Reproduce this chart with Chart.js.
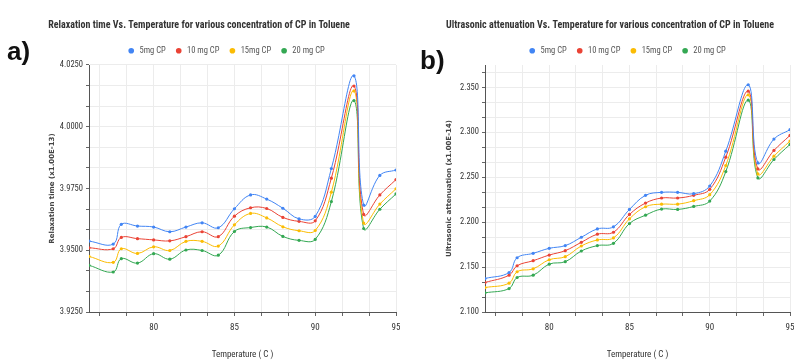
<!DOCTYPE html>
<html><head><meta charset="utf-8">
<script src="https://cdn.jsdelivr.net/npm/chart.js@4.4.1/dist/chart.umd.min.js"></script>
<style>
html,body{margin:0;padding:0;background:#fff;width:794px;height:364px;overflow:hidden;}
#wa{position:absolute;left:0;top:0;width:400px;height:364px;}
#wb{position:absolute;left:400px;top:0;width:394px;height:364px;}
.lab{position:absolute;font-family:'Liberation Sans',Arial,sans-serif;font-weight:bold;font-size:26px;color:#111;z-index:2;line-height:1;}
</style></head><body>
<div id="wa"><canvas id="ca" width="400" height="364"></canvas></div>
<div id="wb"><canvas id="cb" width="394" height="364"></canvas></div>
<div class="lab" style="left:7px;top:38px">a)</div>
<div class="lab" style="left:420px;top:47px">b)</div>
<script>
// ---- data ----
const temps = [76, 77.5, 78, 79, 80, 81, 82, 83, 84, 85, 86, 87, 88, 89, 90, 91, 92.4, 93, 94, 95];
const seriesNames = ['5mg CP', '10 mg CP', '15mg CP', '20 mg CP'];
const seriesColors = ['#4285F4', '#EA4335', '#FBBC04', '#34A853'];

const relax5  = [3.9537, 3.9525, 3.9605, 3.9598, 3.9594, 3.9575, 3.9594, 3.9611, 3.9591, 3.9668, 3.9724, 3.9707, 3.9670, 3.9627, 3.9637, 3.9831, 4.0206, 3.9683, 3.9803, 3.9825];
const relax10 = [3.9510, 3.9506, 3.9552, 3.9547, 3.9542, 3.9538, 3.9555, 3.9575, 3.9555, 3.9638, 3.9672, 3.9669, 3.9633, 3.9617, 3.9619, 3.9792, 4.0165, 3.9645, 3.9724, 3.9786];
const relax15 = [3.9475, 3.9451, 3.9506, 3.9487, 3.9514, 3.9499, 3.9536, 3.9536, 3.9517, 3.9603, 3.9649, 3.9631, 3.9595, 3.9579, 3.9580, 3.9735, 4.0145, 3.9610, 3.9687, 3.9749];
const relax20 = [3.9439, 3.9412, 3.9466, 3.9448, 3.9486, 3.9464, 3.9501, 3.9499, 3.9480, 3.9576, 3.9592, 3.9594, 3.9556, 3.9540, 3.9544, 3.9697, 4.0106, 3.9588, 3.9666, 3.9728];

const atten5  = [2.1373, 2.1440, 2.1604, 2.1653, 2.1709, 2.1739, 2.1832, 2.1925, 2.1948, 2.2142, 2.2299, 2.2332, 2.2332, 2.2317, 2.2403, 2.2791, 2.3530, 2.2660, 2.2925, 2.3030];
const atten10 = [2.1328, 2.1410, 2.1515, 2.1571, 2.1634, 2.1683, 2.1776, 2.1866, 2.1888, 2.2086, 2.2213, 2.2269, 2.2269, 2.2299, 2.2366, 2.2724, 2.3459, 2.2593, 2.2799, 2.2966];
const atten15 = [2.1272, 2.1321, 2.1448, 2.1481, 2.1582, 2.1616, 2.1735, 2.1802, 2.1825, 2.2037, 2.2172, 2.2201, 2.2201, 2.2239, 2.2306, 2.2631, 2.3418, 2.2537, 2.2735, 2.2903];
const atten20 = [2.1213, 2.1261, 2.1384, 2.1410, 2.1533, 2.1560, 2.1679, 2.1739, 2.1765, 2.1985, 2.2078, 2.2146, 2.2142, 2.2175, 2.2235, 2.2563, 2.3358, 2.2493, 2.2698, 2.2866];

const xTickLabels = ['80', '85', '90', '95'];
const relaxTickLabels = ['3.9250', '3.9500', '3.9750', '4.0000', '4.0250'];
const attenTickLabels = ['2.100', '2.150', '2.200', '2.250', '2.300', '2.350'];

const NARROW = "'Liberation Sans Narrow','Arial Narrow','Roboto Condensed','DejaVu Sans Condensed',sans-serif";

// minor tick values: each labelled interval split into thirds, within [lo, hi]
function minorTicks(labels, lo, hi) {
  const a = parseFloat(labels[0]), b = parseFloat(labels[1]);
  const step = (b - a) / 3;
  const out = [];
  for (let k = -40; k < 200; k++) {
    const v = a + k * step;
    if (v >= lo - 1e-9 && v <= hi + 1e-9) out.push(v);
  }
  return out;
}
function labelFor(labels, v) {
  for (const s of labels) if (Math.abs(parseFloat(s) - v) < 1e-7) return s;
  return '';
}

const shiftPlugin = {
  id: 'shift',
  afterLayout(chart, args, opts) {
    const t = chart.titleBlock, l = chart.legend;
    if (t && opts.titleCenter != null) { const d = opts.titleCenter - (t.left + t.right) / 2; t.left += d; t.right += d; }
    if (l && opts.legendCenter != null) { const d = opts.legendCenter - (l.left + l.right) / 2; l.left += d; l.right += d; }
  }
};

function makeChart(id, cfg) {
  const datasets = cfg.series.map((vals, i) => ({
    label: seriesNames[i],
    data: temps.map((t, j) => ({x: t, y: vals[j]})),
    borderColor: seriesColors[i],
    backgroundColor: seriesColors[i],
    borderWidth: 1,
    pointRadius: 1.6,
    pointBorderWidth: 0,
    pointStyle: 'circle',
    tension: 0.4,
    fill: false
  }));
  const xMin = temps[0], xMax = temps[temps.length - 1];
  return new Chart(document.getElementById(id), {
    type: 'line',
    data: {datasets},
    plugins: [shiftPlugin],
    options: {
      responsive: false,
      animation: false,
      layout: {padding: {left: 0, right: cfg.padRight, top: 0, bottom: 0}},
      plugins: {
        shift: {titleCenter: cfg.titleCenter, legendCenter: cfg.legendCenter},
        title: {display: true, text: cfg.title, color: '#333',
          font: {family: NARROW, size: 10, weight: 'bold'}, padding: {top: 9, bottom: 6}},
        legend: {display: true, position: 'top',
          labels: {usePointStyle: true, boxWidth: 8, boxHeight: 4, padding: 9, color: '#555',
            font: {family: NARROW, size: 8.5}}},
        tooltip: {enabled: false}
      },
      scales: {
        x: {type: 'linear', min: xMin, max: xMax,
          afterBuildTicks: s => { s.ticks = minorTicks(xTickLabels, xMin, xMax).map(v => ({value: v})); },
          afterFit: s => { s.height = 52; s.paddingLeft = 0; s.paddingRight = 0; },
          ticks: {autoSkip: false, maxRotation: 0, color: '#333', padding: 6,
            font: {family: NARROW, size: 9},
            callback: v => labelFor(xTickLabels, v)},
          grid: {color: '#ececec', tickColor: '#666', tickLength: 4},
          border: {display: true, color: '#555', width: 1},
          title: {display: true, text: 'Temperature ( C )', color: '#333',
            font: {family: NARROW, size: 9}, padding: {top: 0, bottom: 3.6}}
        },
        y: {type: 'linear', min: cfg.yMin, max: cfg.yMax,
          afterBuildTicks: s => { s.ticks = minorTicks(cfg.yLabels, cfg.yMin, cfg.yMax).map(v => ({value: v})); },
          afterFit: s => { s.width = cfg.yWidth; s.paddingTop = 65; s.paddingBottom = 0; },
          ticks: {autoSkip: false, color: '#333', padding: 3,
            font: {family: NARROW, size: 8.5},
            callback: v => labelFor(cfg.yLabels, v)},
          grid: {color: '#ececec', tickColor: '#666', tickLength: 3},
          border: {display: true, color: '#555', width: 1},
          title: {display: true, text: cfg.yTitle, color: '#444',
            font: {family: "'DejaVu Sans','Liberation Sans',sans-serif", size: 7, weight: 'bold'},
            padding: {top: cfg.yTitlePad, bottom: 0}}
        }
      }
    }
  });
}

makeChart('ca', {
  title: 'Relaxation time Vs. Temperature for various concentration of CP in Toluene',
  yTitle: 'Relaxation time (x1.00E-13)',
  series: [relax5, relax10, relax15, relax20],
  yMin: parseFloat(relaxTickLabels[0]), yMax: parseFloat(relaxTickLabels[relaxTickLabels.length - 1]),
  yLabels: relaxTickLabels, yWidth: 89, yTitlePad: 47.5, padRight: 4,
  titleCenter: 199, legendCenter: 226
});
makeChart('cb', {
  title: 'Ultrasonic attenuation Vs. Temperature for various concentration of CP in Toluene',
  yTitle: 'Ultrasonic attenuation (x1.00E-14)',
  series: [atten5, atten10, atten15, atten20],
  yMin: parseFloat(attenTickLabels[0]), yMax: 2.375,
  yLabels: attenTickLabels, yWidth: 85, yTitlePad: 44.5, padRight: 1,
  titleCenter: 210, legendCenter: 227
});
</script>
</body></html>
